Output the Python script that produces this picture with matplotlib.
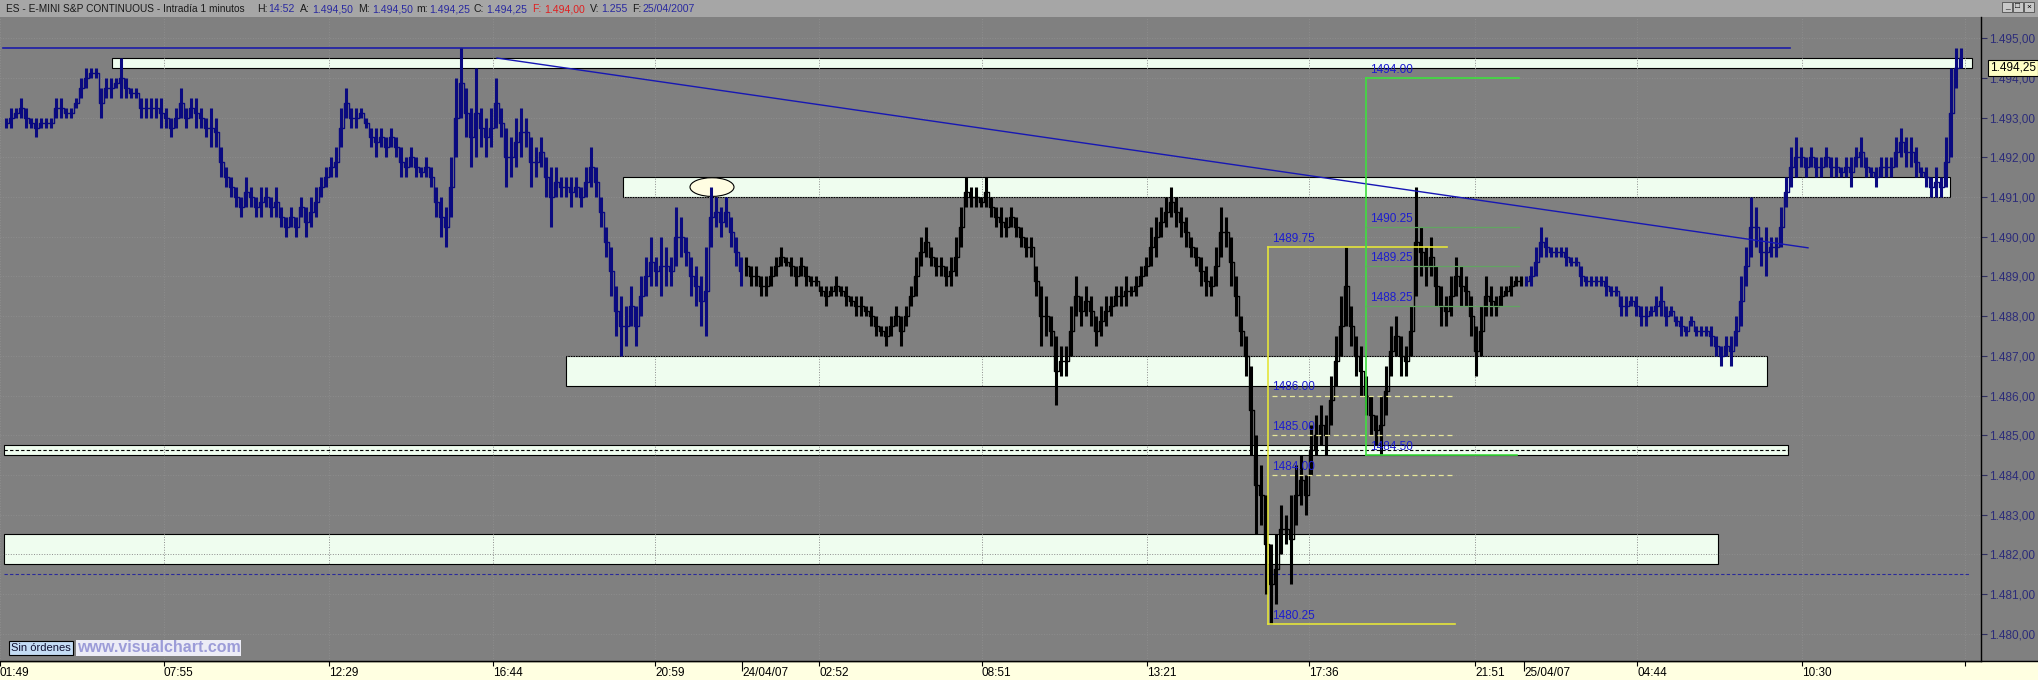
import numpy as np
import matplotlib
matplotlib.use("Agg")
import matplotlib.pyplot as plt
from matplotlib.patches import Rectangle, Ellipse

plt.rcParams["font.family"] = ["Liberation Sans", "DejaVu Sans"]

W, H = 2038, 680
BG = "#808080"
BAR_STEP = 5          # one drawn bar every 5 chart columns

# ---- price bars (high / low), one list pair per session ----
day1_start = 6
day1_high = [1493.0, 1493.25, 1493.25, 1493.5, 1493.25, 1493.0, 1493.0, 1493.0, 1493.0, 1493.0,
             1493.5, 1493.5, 1493.25, 1493.25, 1493.5, 1494.0, 1494.25, 1494.25, 1494.25, 1493.75,
             1494.0, 1494.0, 1494.0, 1494.5, 1494.0, 1493.75, 1493.75, 1493.5, 1493.5, 1493.5,
             1493.5, 1493.5, 1493.25, 1493.0, 1493.25, 1493.75, 1493.25, 1493.5, 1493.5, 1493.25,
             1493.0, 1493.25, 1493.0, 1492.25, 1491.75, 1491.5, 1491.25, 1491.0, 1491.5, 1491.25,
             1491.0, 1491.25, 1491.25, 1491.0, 1491.25, 1490.75, 1490.5, 1490.75, 1490.5, 1491.0,
             1490.75, 1491.0, 1491.25, 1491.5, 1491.75, 1492.0, 1492.25, 1493.25, 1493.75, 1493.25,
             1493.25, 1493.25, 1493.0, 1492.75, 1492.75, 1492.75, 1492.5, 1492.75, 1492.5, 1492.25,
             1492.0, 1492.25, 1492.0, 1491.75, 1492.0, 1491.75, 1491.25, 1491.0, 1490.75, 1492.0,
             1494.0, 1494.75, 1493.75, 1493.25, 1494.25, 1493.25, 1493.0, 1493.25, 1494.0, 1493.25,
             1492.75, 1492.5, 1493.0, 1493.25, 1493.0, 1492.5, 1492.25, 1492.5, 1492.0, 1491.75,
             1491.75, 1491.5, 1491.5, 1491.5, 1491.5, 1491.25, 1491.75, 1492.25, 1491.75, 1491.0,
             1490.25, 1489.75, 1488.75, 1488.5, 1488.25, 1488.75, 1488.25, 1489.0, 1489.5, 1490.0,
             1489.5, 1490.0, 1489.75, 1489.5, 1490.75, 1490.5, 1490.0, 1489.5, 1489.25, 1489.0,
             1489.75, 1491.25, 1491.0, 1490.75, 1491.0, 1490.5, 1490.0, 1489.5]
day1_low = [1492.75, 1492.75, 1493.0, 1493.0, 1492.75, 1492.75, 1492.5, 1492.75, 1492.75, 1492.75,
            1493.0, 1493.0, 1493.0, 1493.0, 1493.25, 1493.5, 1493.75, 1494.0, 1494.0, 1493.0,
            1493.5, 1493.5, 1493.75, 1493.5, 1493.5, 1493.5, 1493.5, 1493.0, 1493.0, 1493.0,
            1493.0, 1492.75, 1492.75, 1492.5, 1492.75, 1493.0, 1492.75, 1493.0, 1492.75, 1492.75,
            1492.5, 1492.25, 1492.25, 1491.5, 1491.25, 1491.0, 1490.75, 1490.5, 1490.75, 1490.75,
            1490.5, 1490.5, 1490.75, 1490.5, 1490.5, 1490.25, 1490.0, 1490.25, 1490.0, 1490.5,
            1490.0, 1490.25, 1490.5, 1491.0, 1491.25, 1491.5, 1491.5, 1492.25, 1493.0, 1492.75,
            1492.75, 1493.0, 1492.75, 1492.25, 1492.0, 1492.25, 1492.0, 1492.25, 1492.0, 1491.5,
            1491.5, 1491.75, 1491.5, 1491.5, 1491.5, 1491.25, 1490.5, 1490.0, 1489.75, 1490.5,
            1492.0, 1493.0, 1492.5, 1491.75, 1492.0, 1492.25, 1492.0, 1492.25, 1492.75, 1492.5,
            1491.25, 1491.5, 1491.75, 1492.0, 1492.25, 1491.25, 1491.5, 1491.75, 1491.0, 1490.25,
            1491.0, 1491.0, 1491.0, 1490.75, 1491.0, 1490.75, 1491.0, 1491.25, 1491.0, 1490.25,
            1489.5, 1488.5, 1487.5, 1487.0, 1487.25, 1487.75, 1487.25, 1488.0, 1488.5, 1488.75,
            1488.75, 1488.5, 1488.75, 1488.75, 1489.25, 1489.5, 1489.25, 1488.5, 1488.25, 1487.75,
            1487.5, 1489.75, 1490.25, 1490.0, 1490.25, 1489.75, 1489.25, 1488.75]

day2_start = 746
day2_high = [1489.5, 1489.25, 1489.25, 1489.0, 1489.0, 1489.25, 1489.5, 1489.75, 1489.5, 1489.5,
             1489.25, 1489.5, 1489.25, 1489.0, 1489.0, 1488.75, 1488.75, 1488.75, 1489.0, 1488.75,
             1488.75, 1488.5, 1488.5, 1488.5, 1488.25, 1488.25, 1488.0, 1487.75, 1487.75, 1488.0,
             1488.25, 1488.0, 1488.25, 1488.75, 1489.5, 1490.0, 1490.25, 1489.75, 1489.5, 1489.5,
             1489.25, 1489.5, 1490.0, 1490.75, 1491.5, 1491.25, 1491.25, 1491.0, 1491.5, 1491.0,
             1490.75, 1490.75, 1490.5, 1490.75, 1490.5, 1490.25, 1490.0, 1490.0, 1489.25, 1488.75,
             1488.5, 1488.0, 1487.5, 1487.25, 1487.25, 1488.25, 1489.0, 1488.5, 1488.75, 1488.5,
             1488.0, 1488.25, 1488.5, 1488.5, 1488.75, 1488.75, 1489.0, 1488.75, 1489.0, 1489.25,
             1489.5, 1490.25, 1490.5, 1490.75, 1491.0, 1491.25, 1491.0, 1490.75, 1490.5, 1490.0,
             1489.75, 1489.5, 1489.25, 1489.0, 1489.75, 1490.75, 1490.5, 1490.0, 1489.0, 1488.0,
             1487.5, 1486.75, 1485.0, 1484.25, 1483.5, 1482.25, 1482.5, 1483.25, 1483.0, 1483.5,
             1484.25, 1484.5, 1484.0, 1485.25, 1485.5, 1485.75, 1485.5, 1486.5, 1487.5, 1488.5,
             1489.75, 1488.25, 1487.5, 1487.25, 1486.5, 1486.0, 1485.5, 1486.0, 1486.75, 1487.75,
             1488.0, 1487.5, 1487.25, 1488.25, 1491.25, 1490.25, 1489.75, 1490.0, 1489.25, 1488.75,
             1488.5, 1489.0, 1489.5, 1489.25, 1489.0, 1488.5, 1487.75, 1488.25, 1489.0, 1488.75,
             1488.5, 1488.75, 1488.75, 1489.0, 1489.0, 1489.0]
day2_low = [1489.0, 1488.75, 1488.75, 1488.5, 1488.5, 1488.75, 1489.0, 1489.25, 1489.25, 1489.0,
            1488.75, 1489.0, 1488.75, 1488.75, 1488.75, 1488.5, 1488.25, 1488.5, 1488.5, 1488.5,
            1488.25, 1488.25, 1488.0, 1488.0, 1488.0, 1487.75, 1487.5, 1487.5, 1487.25, 1487.5,
            1487.75, 1487.25, 1487.75, 1488.25, 1488.5, 1489.25, 1489.5, 1489.25, 1489.0, 1489.0,
            1488.75, 1488.75, 1489.0, 1489.75, 1490.75, 1490.75, 1490.75, 1490.75, 1490.75, 1490.5,
            1490.25, 1490.0, 1490.0, 1490.25, 1490.0, 1489.75, 1489.5, 1489.5, 1488.5, 1487.25,
            1487.5, 1487.25, 1485.75, 1486.5, 1486.5, 1487.0, 1488.0, 1487.75, 1488.0, 1487.75,
            1487.25, 1487.5, 1487.75, 1488.0, 1488.25, 1488.25, 1488.25, 1488.5, 1488.5, 1488.75,
            1489.0, 1489.25, 1489.5, 1490.0, 1490.25, 1490.5, 1490.25, 1490.0, 1489.75, 1489.5,
            1489.25, 1488.75, 1488.5, 1488.5, 1488.75, 1489.5, 1489.75, 1488.75, 1488.0, 1487.25,
            1486.5, 1484.5, 1482.5, 1482.75, 1481.0, 1480.25, 1480.75, 1482.0, 1482.25, 1481.25,
            1482.75, 1483.25, 1483.0, 1484.0, 1484.5, 1484.75, 1484.5, 1485.25, 1486.25, 1487.0,
            1487.75, 1487.25, 1486.5, 1486.0, 1485.5, 1485.0, 1484.75, 1484.5, 1485.5, 1486.5,
            1487.0, 1486.5, 1486.5, 1487.0, 1488.5, 1489.0, 1488.75, 1489.0, 1488.25, 1487.75,
            1487.75, 1488.0, 1488.5, 1488.25, 1488.25, 1487.5, 1486.5, 1487.0, 1488.0, 1488.0,
            1488.0, 1488.25, 1488.5, 1488.5, 1488.75, 1488.75]

day3_start = 1526
day3_high = [1489.0, 1489.25, 1489.75, 1490.25, 1490.0, 1489.75, 1489.75, 1489.75, 1489.75, 1489.5,
             1489.5, 1489.25, 1489.0, 1489.0, 1489.0, 1489.0, 1489.0, 1488.75, 1488.75, 1488.5,
             1488.5, 1488.5, 1488.5, 1488.25, 1488.25, 1488.25, 1488.5, 1488.75, 1488.25, 1488.25,
             1488.0, 1488.0, 1487.75, 1488.0, 1487.75, 1487.75, 1487.75, 1487.75, 1487.5, 1487.25,
             1487.5, 1487.5, 1488.0, 1489.0, 1489.75, 1491.0, 1490.75, 1490.0, 1490.25, 1490.0,
             1490.0, 1490.75, 1491.5, 1492.25, 1492.5, 1492.25, 1492.0, 1492.25, 1492.0, 1492.0,
             1492.25, 1492.0, 1492.0, 1491.75, 1492.0, 1492.0, 1492.25, 1492.5, 1492.0, 1491.75,
             1491.75, 1492.0, 1492.0, 1492.0, 1492.5, 1492.75, 1492.5, 1492.5, 1492.25, 1491.75,
             1491.75, 1491.5, 1491.75, 1491.5, 1492.5, 1494.25, 1494.75, 1494.75]
day3_low = [1488.75, 1488.75, 1489.0, 1489.5, 1489.5, 1489.5, 1489.5, 1489.5, 1489.25, 1489.25,
            1489.25, 1488.75, 1488.75, 1488.75, 1488.75, 1488.75, 1488.5, 1488.5, 1488.5, 1488.0,
            1488.0, 1488.25, 1488.0, 1487.75, 1487.75, 1488.0, 1488.0, 1488.0, 1487.75, 1488.0,
            1487.75, 1487.5, 1487.5, 1487.75, 1487.5, 1487.5, 1487.5, 1487.25, 1487.0, 1486.75,
            1487.0, 1486.75, 1487.25, 1487.75, 1488.75, 1489.5, 1489.75, 1489.25, 1489.0, 1489.5,
            1489.5, 1489.75, 1490.75, 1491.25, 1491.5, 1491.75, 1491.5, 1491.75, 1491.5, 1491.5,
            1491.75, 1491.5, 1491.5, 1491.5, 1491.5, 1491.25, 1491.75, 1491.75, 1491.5, 1491.5,
            1491.25, 1491.5, 1491.5, 1491.5, 1491.75, 1492.0, 1491.75, 1491.75, 1491.5, 1491.5,
            1491.25, 1491.0, 1491.0, 1491.0, 1491.25, 1492.0, 1493.75, 1494.25]

# ---- support / resistance zones ----
zone_top = [1494.5, 1491.5, 1487.0, 1484.75, 1482.5]
zone_bot = [1494.25, 1491.0, 1486.25, 1484.5, 1481.75]
zone_from = [112, 623, 566, 4, 4]
zone_to = [1972, 1950, 1767, 1788, 1718]

top_line = 1494.75
low_dash = 1481.5
trend_x = [497, 1808]
trend_p = [1494.5, 1489.72]

# fibonacci retracements
fib_y_x = 1268
fib_y_hi, fib_y_lo = 1489.75, 1480.25
fib_y_levels = [1486.00, 1485.00, 1484.00]
fib_g_x = 1366
fib_g_hi, fib_g_lo = 1494.00, 1484.50
fib_g_levels = [1490.25, 1489.25, 1488.25]

# axes
price_ticks = list(range(1480, 1496))
time_pos = [0, 164, 329, 493, 655, 819, 982, 1147, 1309, 1475, 1637, 1802, 1965]
time_lbl = ["01:49", "07:55", "12:29", "16:44", "20:59", "02:52", "08:51", "13:21",
            "17:36", "21:51", "04:44", "10:30", ""]
date_pos = [742, 1524]
date_lbl = ["24/04/07", "25/04/07"]
last_price = 1494.25

header_txt = ["ES - E-MINI S&P CONTINUOUS - Intradía 1 minutos", "H:", "14:52", "A:", "1.494,50",
              "M:", "1.494,50", "m:", "1.494,25", "C:", "1.494,25", "F:", "1.494,00",
              "V:", "1.255", "F:", "25/04/2007"]
header_col = ["#1a1a1a", "#1a1a1a", "#2a2aa0", "#1a1a1a", "#2a2aa0", "#1a1a1a", "#2a2aa0",
              "#1a1a1a", "#2a2aa0", "#1a1a1a", "#2a2aa0", "#e02020", "#e02020",
              "#1a1a1a", "#2a2aa0", "#1a1a1a", "#2a2aa0"]
header_x = [6, 257, 268, 300, 312, 358, 372, 416, 429, 474, 486, 532, 544, 590, 601, 632, 643]


def fmt_price(p):
    whole = int(p)
    cents = int(round((p - whole) * 100))
    return f"{whole // 1000}.{whole % 1000:03d},{cents:02d}"


# ---------------------------------------------------------------
fig = plt.figure(figsize=(W / 100, H / 100), dpi=100)
fig.patch.set_facecolor(BG)

# pixel overlay for the window chrome
bg = fig.add_axes([0, 0, 1, 1], zorder=-5)
bg.set_xlim(0, W); bg.set_ylim(H, 0); bg.axis("off")
bg.add_patch(Rectangle((0, 0), W, 17, fc="#a6a6a6", ec="none"))
bg.add_patch(Rectangle((0, 661), W, 19, fc="#ffffe1", ec="none"))
bg.plot([0, W], [661, 661], color="black", lw=1)

TOP, BOT, RIGHT = 17, 661, 1981
p_per_px = 1 / 39.7
y_top = 1490 + (236.7 - TOP) * p_per_px
y_bot = 1490 - (BOT - 236.7) * p_per_px

ax = fig.add_axes([0, (H - BOT) / H, RIGHT / W, (BOT - TOP) / H])
ax.set_facecolor(BG)
ax.set_xlim(0, RIGHT)
ax.set_ylim(y_bot, y_top)
for s in ("left", "top"):
    ax.spines[s].set_visible(False)
ax.spines["right"].set_color("black"); ax.spines["right"].set_linewidth(1)
ax.spines["bottom"].set_color("black"); ax.spines["bottom"].set_linewidth(1)
ax.set_axisbelow("line")

ax.yaxis.tick_right()
ax.set_yticks(price_ticks)
ax.set_yticklabels([fmt_price(p) for p in price_ticks])
ax.tick_params(axis="y", direction="out", length=4, width=0.8, color="#303060",
               labelcolor="#2c2c7a", labelsize=8.5, pad=1.5)
ax.set_xticks(time_pos)
ax.set_xticklabels(time_lbl)
ax.set_xticks(date_pos, minor=True)
ax.set_xticklabels(date_lbl, minor=True)
ax.tick_params(axis="x", which="major", direction="out", length=3.5, width=0.8,
               labelsize=8.5, pad=1)
ax.tick_params(axis="x", which="minor", direction="out", length=7, width=0.8,
               labelsize=8.5, pad=-2.5)
for t in ax.get_xticklabels(which="both"):
    t.set_ha("left")
ax.grid(True, which="major", color="#8d8d8d", ls=":", lw=0.7)

for top, bot, x0, x1 in zip(zone_top, zone_bot, zone_from, zone_to):
    ax.add_patch(Rectangle((x0, bot), x1 - x0, top - bot, fc="#effdef", ec="black",
                           lw=0.8, zorder=1))
# thin dashed zone gets its centre line
ax.plot([zone_from[3], zone_to[3]], [(zone_top[3] + zone_bot[3]) / 2] * 2, color="black",
        lw=0.8, ls=(0, (3, 2)), zorder=1.6)

ax.add_patch(Ellipse((712, 1491.25), 44, 0.47, fc="#fffde2", ec="black", lw=0.8, zorder=1.7))

ax.plot([3, 1790], [top_line, top_line], color="#1c1ca8", lw=1.2, zorder=4)
ax.plot([4, 1969], [low_dash, low_dash], color="#2a2a9a", lw=0.8, ls=(0, (3, 2)), zorder=4)
ax.plot(trend_x, trend_p, color="#1717b4", lw=1.0, zorder=6)


def bars(start, high, low, color):
    x = start + BAR_STEP * np.arange(len(high))
    hi = np.asarray(high); lo = np.asarray(low)
    ax.vlines(x, lo, hi, color=color, lw=2.2, zorder=5)
    ax.plot(x, (hi + lo) / 2, color=color, lw=1.0, drawstyle="steps-mid", zorder=5)


bars(day1_start, day1_high, day1_low, "#0a0a80")
bars(day2_start, day2_high, day2_low, "black")
bars(day3_start, day3_high, day3_low, "#0a0a80")

# yellow fibonacci
YEL = "#e4e43a"
ax.plot([fib_y_x, fib_y_x], [fib_y_lo, fib_y_hi], color=YEL, lw=1.2, zorder=7)
ax.plot([fib_y_x, 1447], [fib_y_hi, fib_y_hi], color=YEL, lw=1.2, zorder=7)
ax.plot([fib_y_x, 1455], [fib_y_lo, fib_y_lo], color=YEL, lw=1.2, zorder=7)
for lv in fib_y_levels:
    ax.plot([fib_y_x + 4, 1455], [lv, lv], color="#e6e69a", lw=0.9, ls=(0, (4, 3)), zorder=7)
for lv in [fib_y_hi] + fib_y_levels + [fib_y_lo]:
    ax.annotate(f"{lv:.2f}", (fib_y_x + 4, lv), xytext=(0, 1.5), textcoords="offset points",
                va="bottom", ha="left", fontsize=8.5, color="#1c1cd0", zorder=8)

# green fibonacci
GRN = "#3ee03e"
ax.plot([fib_g_x, fib_g_x], [fib_g_lo, fib_g_hi], color=GRN, lw=1.2, zorder=7)
ax.plot([fib_g_x, 1519], [fib_g_hi, fib_g_hi], color=GRN, lw=1.2, zorder=7)
ax.plot([fib_g_x, 1517], [fib_g_lo, fib_g_lo], color=GRN, lw=1.2, zorder=7)
for lv in fib_g_levels:
    ax.plot([fib_g_x, 1519], [lv, lv], color="#62a462", lw=0.9, zorder=7)
for lv in [fib_g_hi] + fib_g_levels + [fib_g_lo]:
    ax.annotate(f"{lv:.2f}", (fib_g_x + 4, lv), xytext=(0, 1.5), textcoords="offset points",
                va="bottom", ha="left", fontsize=8.5, color="#1c1cd0", zorder=8)

# foreground chrome
fg = fig.add_axes([0, 0, 1, 1], zorder=10)
fg.set_xlim(0, W); fg.set_ylim(H, 0); fg.axis("off"); fg.patch.set_alpha(0)
for i, (txt, col, x) in enumerate(zip(header_txt, header_col, header_x)):
    fg.text(x, 9, txt, color=col, fontsize=7.3 if i == 0 else 7.6, va="center", ha="left")
for i, sym in enumerate(["_", "□", "×"]):
    x0 = 2002 + i * 11
    fg.add_patch(Rectangle((x0, 2), 10, 10, fc="#c8c8c8", ec="#505050", lw=0.6))
    fg.text(x0 + 5, 7, sym, fontsize=6, ha="center", va="center", color="black")

y_last = 236.7 + (1490 - last_price) * 39.7
fg.text(1990, y_last, fmt_price(last_price), fontsize=8.5, va="center", ha="left",
        color="black", bbox=dict(fc="#ffffc4", ec="black", lw=0.8, pad=1.2))

fg.text(11, 648, "Sin órdenes", fontsize=8, va="center", ha="left", color="#101030",
        bbox=dict(fc="#c4dcf4", ec="black", lw=0.8, pad=1.5))
fg.text(77, 648, "www.visualchart.com", fontsize=11.5, weight="bold", va="center", ha="left",
        color="#9c9cd8", bbox=dict(fc="#ececf6", ec="none", pad=0.5))

fig.savefig("out.png", dpi=100, facecolor=fig.get_facecolor())
